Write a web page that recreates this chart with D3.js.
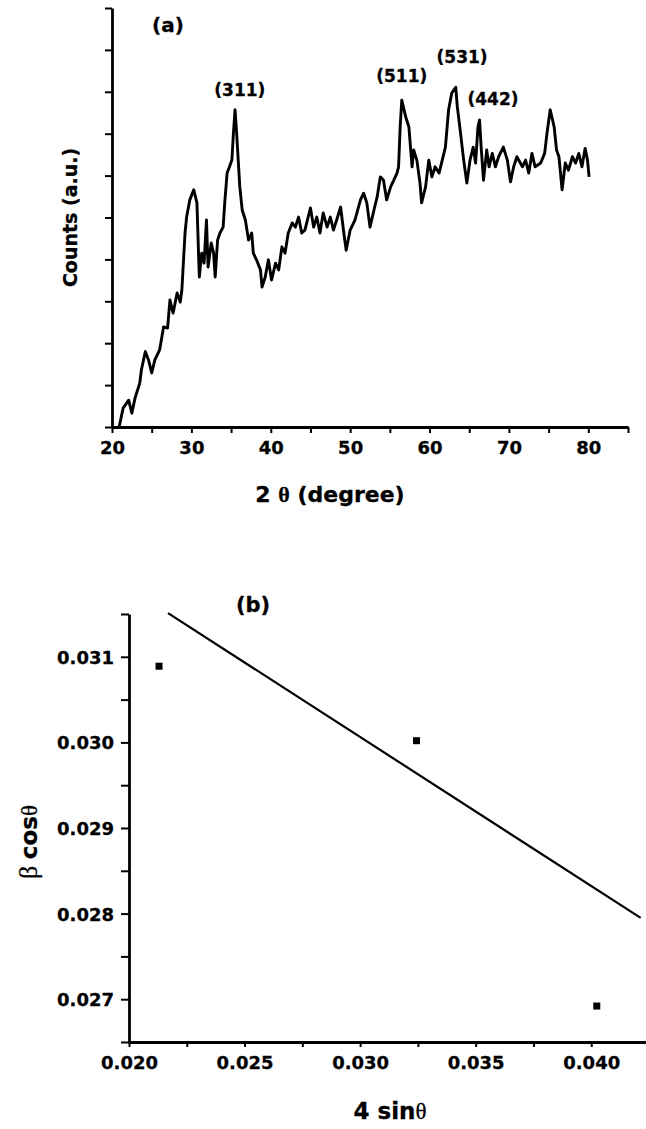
<!DOCTYPE html>
<html>
<head>
<meta charset="utf-8">
<script src="https://cdn.jsdelivr.net/npm/d3@7/dist/d3.min.js"></script>
<style>
  html, body { margin: 0; padding: 0; background: #fff; }
  svg { display: block; }
  text { font-family: "DejaVu Sans", sans-serif; font-weight: bold; fill: #000; stroke: #000; stroke-width: 0.3px; }
</style>
</head>
<body>
<svg id="fig" width="646" height="1129"></svg>
<script>
// ---- Panel (a): XRD pattern ----
const twoTheta = [20.9,21.4,22.1,22.5,22.9,23.5,23.7,24.2,24.6,25.0,25.4,26.0,26.5,27.0,27.3,27.7,28.2,28.6,28.8,29.2,29.4,29.8,30.3,30.7,30.9,31.0,31.3,31.6,31.9,32.1,32.5,32.8,33.0,33.3,33.6,34.0,34.2,34.5,34.8,35.1,35.3,35.5,35.7,35.9,36.1,36.4,36.8,37.2,37.6,37.8,38.2,38.7,38.9,39.3,39.7,40.1,40.6,41.0,41.4,41.8,42.2,42.7,43.1,43.5,43.9,44.3,45.0,45.4,45.8,46.2,46.6,47.1,47.5,47.9,48.3,48.8,49.2,49.5,50.0,50.6,51.3,51.7,52.1,52.5,53.0,53.4,53.8,54.2,54.6,55.1,55.5,55.9,56.1,56.3,56.5,57.0,57.4,57.6,57.8,58.0,58.4,58.8,59.0,59.5,59.9,60.3,60.7,61.2,61.6,62.0,62.4,62.8,63.3,63.5,63.9,64.3,64.7,65.1,65.5,65.8,66.1,66.3,66.5,66.8,67.2,67.5,67.9,68.3,68.7,69.3,69.8,70.2,70.6,71.0,71.7,72.1,72.5,72.9,73.3,74.0,74.5,74.8,75.2,75.7,76.0,76.3,76.7,77.1,77.5,78.0,78.4,78.8,79.2,79.6,79.9,80.1];
const counts = [0,45,64,33,69,105,136,180,160,129,160,184,239,236,303,272,320,298,327,463,501,542,566,535,415,358,415,391,494,382,439,415,358,446,463,477,535,606,621,637,702,757,702,637,573,518,494,446,463,415,399,375,334,358,399,351,391,375,430,415,463,487,477,501,463,470,523,477,501,463,511,477,501,470,494,525,463,422,470,494,542,558,535,477,518,549,597,589,542,573,589,606,621,716,780,740,716,668,621,661,637,582,535,573,637,597,621,606,637,668,757,797,811,764,702,637,582,637,668,630,716,733,668,589,661,621,653,621,645,668,637,585,621,645,621,637,606,653,621,630,653,702,757,716,661,645,566,630,613,645,630,653,621,665,637,597];

const peakLabels = ["(311)", "(511)", "(531)", "(442)"];
const peakTheta  = [36.1, 56.5, 64.1, 68.0];
const peakLevel  = [790, 823, 869, 768];

const xTicksA = [20, 30, 40, 50, 60, 70, 80];
const xMinorA = [25, 35, 45, 55, 65, 75, 85];
const yTicksA = [0,100,200,300,400,500,600,700,800,900,1000];

// ---- Panel (b): Williamson-Hall plot ----
const fourSin = [0.02130, 0.03244, 0.04024];
const betaCos = [0.03089, 0.03002, 0.02692];
const fitX = [0.02169, 0.04214];
const fitY = [0.03151, 0.02795];

const xTicksB = [0.020, 0.025, 0.030, 0.035, 0.040];
const xMinorB = [0.0225, 0.0275, 0.0325, 0.0375, 0.0425];
const yTicksB = [0.027, 0.028, 0.029, 0.030, 0.031];
const yMinorB = [0.0265, 0.0275, 0.0285, 0.0295, 0.0305, 0.0315];

const svg = d3.select("#fig");

function styleAxis(g) {
  g.select(".domain").attr("stroke", "#000").attr("stroke-width", 2.8);
  g.selectAll(".tick line").attr("stroke", "#000").attr("stroke-width", 2);
  g.selectAll(".tick text").style("font-family", "DejaVu Sans").style("font-weight", "bold")
    .style("font-size", "18px").attr("fill", "#000");
}

// ===== Panel (a) =====
const xA = d3.scaleLinear().domain([20, 85]).range([112, 628]);
const yA = d3.scaleLinear().domain([0, 1000]).range([427, 8]);

const gxA = svg.append("g").attr("transform", `translate(0,${yA(0)})`)
  .call(d3.axisBottom(xA).tickValues(xTicksA.concat(xMinorA))
    .tickFormat(d => xTicksA.includes(d) ? d3.format("d")(d) : "")
    .tickSize(6).tickSizeOuter(0).tickPadding(8));
styleAxis(gxA);

const gyA = svg.append("g").attr("transform", `translate(${xA(20)},0)`)
  .call(d3.axisLeft(yA).tickValues(yTicksA).tickFormat("").tickSize(7).tickSizeOuter(0));
styleAxis(gyA);

const line = d3.line().x(d => xA(d[0])).y(d => yA(d[1])).curve(d3.curveLinear);
svg.append("path")
  .datum(twoTheta.map((t, i) => [t, counts[i]]))
  .attr("d", line)
  .attr("fill", "none").attr("stroke", "#000")
  .attr("stroke-width", 2.9).attr("stroke-linejoin", "round");

svg.selectAll(".peak").data(peakLabels).enter().append("text")
  .attr("class", "peak")
  .attr("x", (d, i) => xA(peakTheta[i]))
  .attr("y", (d, i) => yA(peakLevel[i]))
  .attr("text-anchor", "middle")
  .style("font-size", "17px")
  .text(d => d);

svg.append("text").attr("x", 168).attr("y", 32).attr("text-anchor", "middle")
  .style("font-size", "20px").text("(a)");

svg.append("text")
  .attr("transform", `translate(77,${(yA(0) + yA(1000)) / 2}) rotate(-90)`)
  .attr("text-anchor", "middle").style("font-size", "19px")
  .text("Counts (a.u.)");

const tA = svg.append("text").attr("x", 330).attr("y", 502).attr("text-anchor", "middle")
  .style("font-size", "22px");
tA.append("tspan").text("2 ");
tA.append("tspan").style("font-family", "Liberation Serif").style("font-weight", "bold").text("θ");
tA.append("tspan").text(" (degree)");

// ===== Panel (b) =====
const xB = d3.scaleLinear().domain([0.020, 0.0425]).range([129, 649]);
const yB = d3.scaleLinear().domain([0.0265, 0.0315]).range([1042, 614]);

const gxB = svg.append("g").attr("transform", `translate(0,${yB(0.0265)})`)
  .call(d3.axisBottom(xB).tickValues(xTicksB.concat(xMinorB))
    .tickFormat(d => xTicksB.some(v => Math.abs(v - d) < 1e-9) ? d3.format(".3f")(d) : "")
    .tickSize(5).tickSizeOuter(0).tickPadding(9));
styleAxis(gxB);

const gyB = svg.append("g").attr("transform", `translate(${xB(0.020)},0)`)
  .call(d3.axisLeft(yB).tickValues(yTicksB.concat(yMinorB))
    .tickFormat(d => yTicksB.some(v => Math.abs(v - d) < 1e-9) ? d3.format(".3f")(d) : "")
    .tickSize(8).tickSizeOuter(0).tickPadding(7));
styleAxis(gyB);
gyB.selectAll(".tick text").attr("dy", "0.36em");

svg.append("line")
  .attr("x1", xB(fitX[0])).attr("y1", yB(fitY[0]))
  .attr("x2", xB(fitX[1])).attr("y2", yB(fitY[1]))
  .attr("stroke", "#000").attr("stroke-width", 2.2);

svg.selectAll(".pt").data(fourSin).enter().append("rect")
  .attr("class", "pt")
  .attr("x", (d) => xB(d) - 3.5)
  .attr("y", (d, i) => yB(betaCos[i]) - 3.5)
  .attr("width", 7).attr("height", 7).attr("fill", "#000");

svg.append("text").attr("x", 253).attr("y", 612).attr("text-anchor", "middle")
  .style("font-size", "21px").text("(b)");

const tBx = svg.append("text").attr("x", 390).attr("y", 1119).attr("text-anchor", "middle")
  .style("font-size", "23px");
tBx.append("tspan").text("4 sin");
tBx.append("tspan").style("font-family", "Liberation Serif").style("font-weight", "normal").text("θ");

const tBy = svg.append("text")
  .attr("transform", `translate(37,${(yB(0.0265) + yB(0.0315)) / 2 + 14}) rotate(-90)`)
  .attr("text-anchor", "middle").style("font-size", "23px");
tBy.append("tspan").style("font-family", "Liberation Serif").style("font-weight", "normal").style("font-size", "26px").text("β ");
tBy.append("tspan").text("cos");
tBy.append("tspan").style("font-family", "Liberation Serif").style("font-weight", "normal").text("θ");
</script>
</body>
</html>
